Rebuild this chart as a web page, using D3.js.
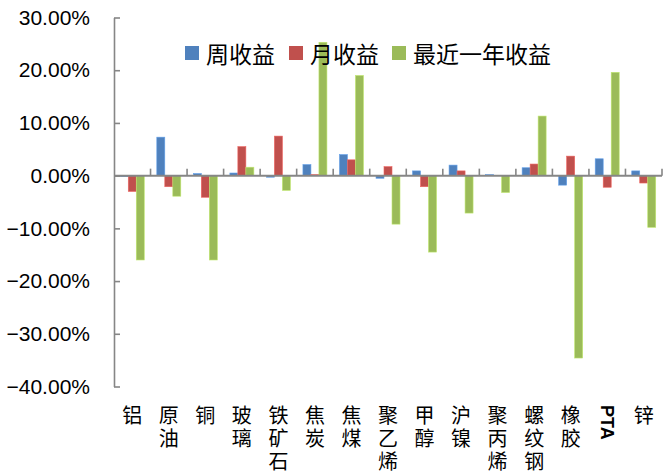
<!DOCTYPE html>
<html lang="zh">
<head>
    <meta charset="UTF-8">
    <title>收益</title>
    <script src="https://cdn.jsdelivr.net/npm/d3@7/dist/d3.min.js"></script>
    <style>
    body { margin: 0; background: #fff; }
    svg { display: block; }
    </style>
</head>
<body>
    <div id="chart"></div>
<script>
    // données (en %)
    const categories = ["铝","原油","铜","玻璃","铁矿石","焦炭","焦煤","聚乙烯","甲醇","沪镍","聚丙烯","螺纹钢","橡胶","PTA","锌"];
    const seriesNames = ["周收益","月收益","最近一年收益"];
    const weekly  = [-0.2, 7.3, 0.4, 0.5, -0.3, 2.1, 4.0, -0.5, 0.9, 2.0, 0.2, 1.5, -1.8, 3.2, 0.9];
    const monthly = [-3.0, -2.1, -4.1, 5.5, 7.5, 0.2, 3.0, 1.7, -2.1, 0.9, 0.0, 2.2, 3.7, -2.2, -1.4];
    const yearly  = [-16.0, -3.9, -16.0, 1.6, -2.8, 25.3, 19.0, -9.2, -14.5, -7.1, -3.2, 11.3, -34.6, 19.6, -9.8];
    const yTicks  = [0.3, 0.2, 0.1, 0, -0.1, -0.2, -0.3, -0.4];

    const colors = ["#4F81BD", "#C0504D", "#9BBB59"];
    const W = 671, H = 475;
    const plotLeft = 114, plotRight = 662, plotTop = 17.5, plotBottom = 386.5;

    const svg = d3.select("#chart").append("svg")
        .attr("width", W).attr("height", H);

    const x = d3.scaleBand().domain(categories).range([plotLeft, plotRight]).padding(0);
    const bw = x.bandwidth();
    const xs = d3.scaleBand().domain(seriesNames)
        .range([(bw - 24) / 2, (bw + 24) / 2]).padding(0);
    const y = d3.scaleLinear().domain([-0.4, 0.3]).range([plotBottom, plotTop]);

    const allSeries = [weekly, monthly, yearly];

    // barres
    allSeries.forEach((vals, si) => {
        svg.append("g").selectAll("rect")
            .data(vals.map((v, i) => ({cat: categories[i], v: v / 100})))
            .enter().append("rect")
            .attr("x", d => x(d.cat) + xs(seriesNames[si]))
            .attr("y", d => y(Math.max(0, d.v)))
            .attr("width", xs.bandwidth())
            .attr("height", d => Math.abs(y(d.v) - y(0)))
            .attr("fill", colors[si])
            .attr("stroke", d3.color(colors[si]).brighter(0.6))
            .attr("stroke-width", 0.6);
    });

    // axe Y
    const yAxis = d3.axisLeft(y)
        .tickValues(yTicks)
        .tickFormat(d => d3.format(".2f")(d * 100) + "%")
        .tickSizeInner(-6)
        .tickSizeOuter(0)
        .tickPadding(24);

    const gy = svg.append("g")
        .attr("transform", `translate(${plotLeft},0)`)
        .call(yAxis);
    gy.selectAll("path, line").attr("stroke", "#868686").attr("stroke-width", 1.6);
    gy.selectAll("text")
        .attr("font-family", "Liberation Sans, Arial, sans-serif")
        .attr("font-size", 21)
        .attr("fill", "#000");

    // ligne zéro + graduations des catégories
    svg.append("line")
        .attr("x1", plotLeft).attr("x2", plotRight)
        .attr("y1", y(0)).attr("y2", y(0))
        .attr("stroke", "#868686").attr("stroke-width", 2);

    svg.append("g").selectAll("line")
        .data(categories.slice(1).map(c => x(c)).concat([plotRight]))
        .enter().append("line")
        .attr("x1", d => d).attr("x2", d => d)
        .attr("y1", y(0)).attr("y2", y(0) - 7)
        .attr("stroke", "#868686").attr("stroke-width", 1.6);

    // étiquettes des catégories, écrites à la verticale
    svg.append("g").selectAll("text")
        .data(categories)
        .enter().append("text")
        .attr("x", d => x(d) + bw / 2)
        .attr("y", 405)
        .attr("writing-mode", "vertical-rl")
        .attr("font-family", d => d === "PTA" ? "Liberation Sans, Arial, sans-serif" : "Noto Sans CJK SC, sans-serif")
        .attr("font-weight", d => d === "PTA" ? "bold" : "normal")
        .attr("font-size", d => d === "PTA" ? 18 : 20)
        .attr("letter-spacing", d => d === "PTA" ? 0 : 3)
        .attr("fill", "#000")
        .text(d => d);

    // légende
    const legendX = [185, 289, 392];
    const legend = svg.append("g");
    seriesNames.forEach((name, i) => {
        legend.append("rect")
            .attr("x", legendX[i]).attr("y", 46)
            .attr("width", 14).attr("height", 14)
            .attr("fill", colors[i]);
        legend.append("text")
            .attr("x", legendX[i] + 21).attr("y", 53)
            .attr("dominant-baseline", "central")
            .attr("font-family", "Noto Sans CJK SC, sans-serif")
            .attr("font-size", 23)
            .attr("fill", "#000")
            .text(name);
    });
</script>
</body>
</html>
